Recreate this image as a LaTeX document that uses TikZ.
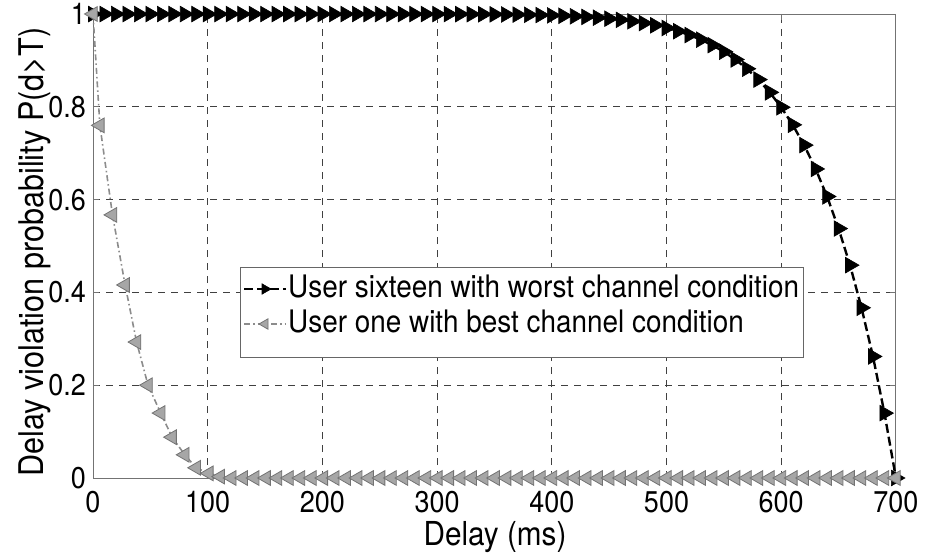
\documentclass[tikz,border=0pt]{standalone}
\usepackage{fontspec}
\setmainfont{TeX Gyre Heros}[FakeStretch=0.9]
\usetikzlibrary{plotmarks}

\begin{document}
\begin{tikzpicture}[x=1pt,y=1pt,
	gridline/.style={color=black!75,line width=0.75pt,dash pattern=on 7pt off 6pt},
	worst/.style={color=black,line width=2.4pt,dash pattern=on 9pt off 4pt,mark=triangle*,mark size=9pt,mark options={solid,rotate=-90,fill=black,line width=0.6pt}},
	best/.style={color=black!45,line width=1.6pt,dash pattern=on 6pt off 3pt on 1.5pt off 3pt,mark=triangle*,mark size=8.5pt,mark options={solid,rotate=90,fill=black!35,draw=black!55,line width=0.8pt}},
	ticklabel/.style={inner sep=0pt,font=\fontsize{30}{36}\selectfont},
	legendtext/.style={inner sep=0pt,font=\fontsize{31}{37}\selectfont},
	axislabel/.style={inner sep=0pt,font=\fontsize{33}{40}\selectfont}]
	\useasboundingbox (0,0) rectangle (925,555);
	\begin{scope}[shift={(93pt,77pt)},x=1.147pt,y=464pt]
		\foreach \x in {100,200,...,600} \draw[gridline] (\x,0) -- (\x,1);
		\foreach \y in {0.2,0.4,0.6,0.8} \draw[gridline] (0,\y) -- (700,\y);
		\draw[color=black!55,line width=0.9pt] (0,0) rectangle (700,1);
		\foreach \x in {0,100,...,700} {
			\draw[color=black!55,line width=0.9pt] (\x,0) -- ++(0,6pt) (\x,1) -- ++(0,-6pt);
			\node[ticklabel,anchor=base,yshift=-34pt] (xt\x) at (\x,0) {\x};
		}
		\foreach \y/\t [count=\i] in {0/0,0.2/0.2,0.4/0.4,0.6/0.6,0.8/0.8,1/1} {
			\draw[color=black!55,line width=0.9pt] (0,\y) -- ++(6pt,0) (700,\y) -- ++(-6pt,0);
			\node[ticklabel,anchor=east,xshift=-7pt] (yt\i) at (0,\y) {\t};
		}
		\draw[worst] plot[domain=0:700,samples=71] (\x,{1-exp(10.4*ln(max(\x,300)/700))});
		\draw[best] plot coordinates {(0,1) (6,0.76) (17,0.567) (28,0.416) (38,0.293) (48,0.2) (59,0.14) (69,0.088) (80,0.05) (90,0.022) (101,0.01) (111,0.003)} -- plot[domain=121:700,samples=59] (\x,0);
	\end{scope}
	\node[axislabel,anchor=base] (xlabel) at (495,10) {Delay (ms)};
	\node[axislabel,anchor=base,rotate=90,font=\fontsize{34}{40}\selectfont] (ylabel) at (43,303) {Delay violation probability P(d>T)};
	\node[draw=black!60,fill=white,line width=0.9pt,minimum width=563pt,minimum height=90pt,inner sep=0pt] (legend) at (521.5,243) {};
	\node[legendtext,anchor=base west] (leg1) at (288,258) {User sixteen with worst channel condition};
	\node[legendtext,anchor=base west] (leg2) at (288,223) {User one with best channel condition};
	\coordinate (s1a) at (244,266);
	\coordinate (s1b) at (286,266);
	\coordinate (s2a) at (244,231);
	\coordinate (s2b) at (286,231);
	\draw[worst,mark size=6pt] (s1a) -- (s1b) plot coordinates {(265,266)};
	\draw[best,mark size=6pt] (s2a) -- (s2b) plot coordinates {(265,231)};
\end{tikzpicture}
\end{document}
